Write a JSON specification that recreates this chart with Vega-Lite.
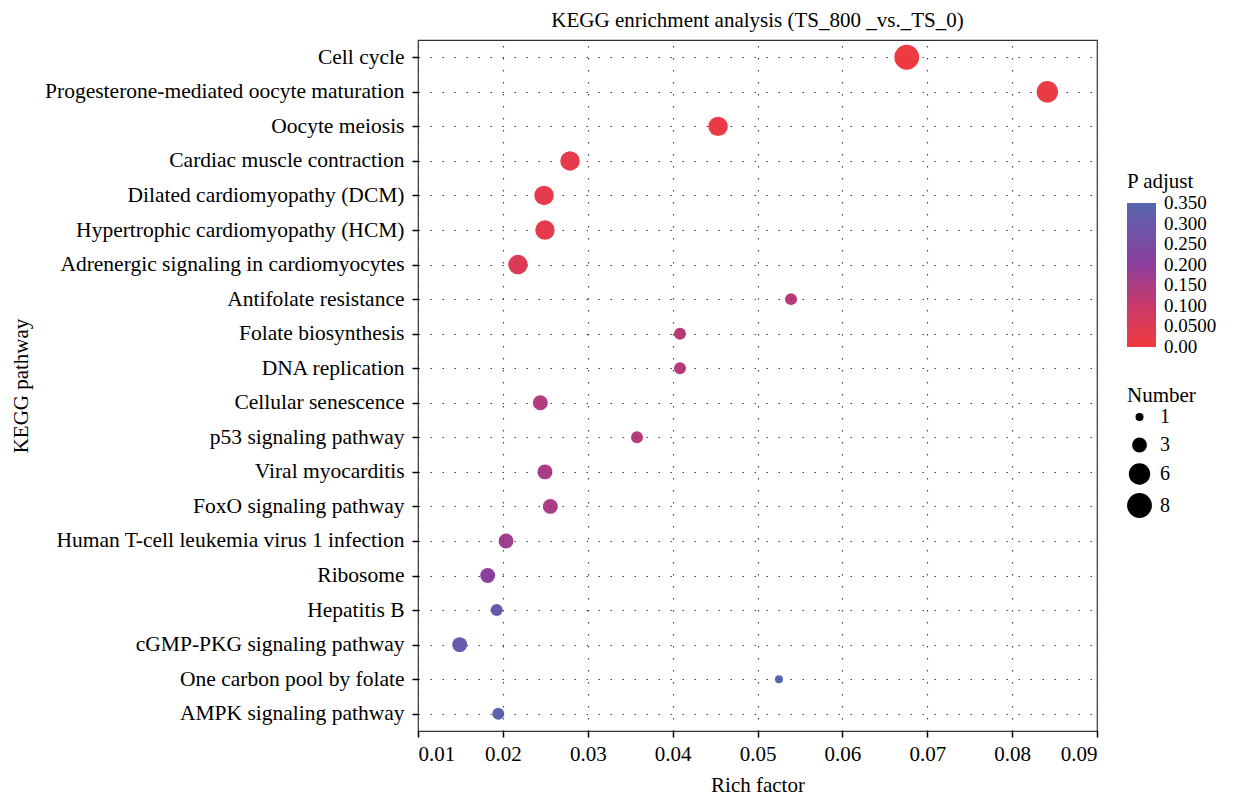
{
  "$schema": "https://vega.github.io/schema/vega-lite/v6.json",
  "width": 679,
  "height": 691,
  "autosize": {"type": "none"},
  "padding": {"left": 418, "top": 40, "right": 143, "bottom": 66},
  "background": "white",
  "title": {"text": "KEGG enrichment analysis (TS_800 _vs._TS_0)", "font": "Liberation Serif", "fontSize": 21, "fontWeight": "normal", "anchor": "middle", "offset": 9, "color": "black"},
  "config": {"view": {"stroke": "#333333", "strokeWidth": 1.2}, "font": "Liberation Serif"},
  "data": {"values": [
    {"pathway": "Cell cycle", "rich": 0.06758, "number": 8, "padj": 0.005},
    {"pathway": "Progesterone-mediated oocyte maturation", "rich": 0.08415, "number": 6, "padj": 0.01},
    {"pathway": "Oocyte meiosis", "rich": 0.04535, "number": 5, "padj": 0.015},
    {"pathway": "Cardiac muscle contraction", "rich": 0.02791, "number": 5, "padj": 0.03},
    {"pathway": "Dilated cardiomyopathy (DCM)", "rich": 0.02485, "number": 5, "padj": 0.03},
    {"pathway": "Hypertrophic cardiomyopathy (HCM)", "rich": 0.02496, "number": 5, "padj": 0.03},
    {"pathway": "Adrenergic signaling in cardiomyocytes", "rich": 0.02178, "number": 5, "padj": 0.05},
    {"pathway": "Antifolate resistance", "rich": 0.05395, "number": 2, "padj": 0.13},
    {"pathway": "Folate biosynthesis", "rich": 0.04087, "number": 2, "padj": 0.13},
    {"pathway": "DNA replication", "rich": 0.04087, "number": 2, "padj": 0.13},
    {"pathway": "Cellular senescence", "rich": 0.02441, "number": 3, "padj": 0.14},
    {"pathway": "p53 signaling pathway", "rich": 0.0358, "number": 2, "padj": 0.13},
    {"pathway": "Viral myocarditis", "rich": 0.02496, "number": 3, "padj": 0.15},
    {"pathway": "FoxO signaling pathway", "rich": 0.02559, "number": 3, "padj": 0.15},
    {"pathway": "Human T-cell leukemia virus 1 infection", "rich": 0.02037, "number": 3, "padj": 0.17},
    {"pathway": "Ribosome", "rich": 0.01821, "number": 3, "padj": 0.21},
    {"pathway": "Hepatitis B", "rich": 0.01927, "number": 2, "padj": 0.3},
    {"pathway": "cGMP-PKG signaling pathway", "rich": 0.01491, "number": 3, "padj": 0.31},
    {"pathway": "One carbon pool by folate", "rich": 0.05253, "number": 1, "padj": 0.35},
    {"pathway": "AMPK signaling pathway", "rich": 0.01946, "number": 2, "padj": 0.33}
  ]},
  "mark": {"type": "circle", "opacity": 0.88},
  "encoding": {
    "x": {
      "field": "rich", "type": "quantitative",
      "scale": {"domain": [0.01, 0.09], "nice": false, "zero": false},
      "axis": {
        "title": "Rich factor", "values": [0.01, 0.02, 0.03, 0.04, 0.05, 0.06, 0.07, 0.08, 0.09], "format": ".2f",
        "grid": true, "gridDash": [1.5, 10.5], "gridColor": "#444444", "gridWidth": 1.2,
        "domain": false, "tickColor": "black", "tickSize": 6, "tickWidth": 1.5,
        "labelFont": "Liberation Serif", "labelFontSize": 21, "labelColor": "black", "labelPadding": 6,
        "titleFont": "Liberation Serif", "titleFontSize": 21, "titleFontWeight": "normal", "titleColor": "black", "titlePadding": 10
      }
    },
    "y": {
      "field": "pathway", "type": "nominal", "sort": null,
      "scale": {"type": "point", "padding": 0.5},
      "axis": {
        "title": "KEGG pathway",
        "grid": true, "gridDash": [1.5, 10.5], "gridColor": "#444444", "gridWidth": 1.2,
        "domain": false, "tickColor": "black", "tickSize": 6, "tickWidth": 1.5,
        "labelFont": "Liberation Serif", "labelFontSize": 21.5, "labelColor": "black", "labelPadding": 8, "labelLimit": 500,
        "titleFont": "Liberation Serif", "titleFontSize": 21, "titleFontWeight": "normal", "titleColor": "black",
        "titleX": -397, "titleY": 345.5, "titleBaseline": "middle", "titleAlign": "center", "titleAngle": -90
      }
    },
    "size": {
      "field": "number", "type": "quantitative", "title": "Number",
      "scale": {"domain": [1, 8], "range": [64, 616], "zero": false},
      "legend": {
        "orient": "none", "legendX": 709, "legendY": 345, "values": [1, 3, 6, 8],
        "symbolType": "circle", "symbolFillColor": "black", "symbolStrokeColor": "black", "symbolStrokeWidth": 0, "symbolOpacity": 1,
        "labelFont": "Liberation Serif", "labelFontSize": 20, "labelColor": "black", "labelOffset": 8,
        "titleFont": "Liberation Serif", "titleFontSize": 21, "titleFontWeight": "normal", "titleColor": "black", "titlePadding": 1,
        "rowPadding": 8
      }
    },
    "color": {
      "field": "padj", "type": "quantitative", "title": "P adjust",
      "scale": {"domain": [-0.0006, 0.1, 0.2, 0.3506], "range": ["#EE2025", "#C21F55", "#7D2390", "#3F52A4"], "interpolate": "rgb"},
      "legend": {
        "orient": "none", "legendX": 709, "legendY": 131, "direction": "vertical",
        "gradientLength": 144, "gradientThickness": 29, "gradientStrokeWidth": 0,
        "values": [0, 0.05, 0.1, 0.15, 0.2, 0.25, 0.3, 0.35],
        "labelExpr": "datum.value == 0 ? '0.00' : (datum.value == 0.05 ? '0.0500' : format(datum.value, '.3f'))",
        "labelBaseline": "middle",
        "labelOverlap": false, "labelFont": "Liberation Serif", "labelFontSize": 19, "labelColor": "black", "labelOffset": 8,
        "titleFont": "Liberation Serif", "titleFontSize": 21, "titleFontWeight": "normal", "titleColor": "black", "titlePadding": 11,
        "encode": {"labels": {"update": {"baseline": {"value": "middle"}}}}
      }
    }
  }
}
